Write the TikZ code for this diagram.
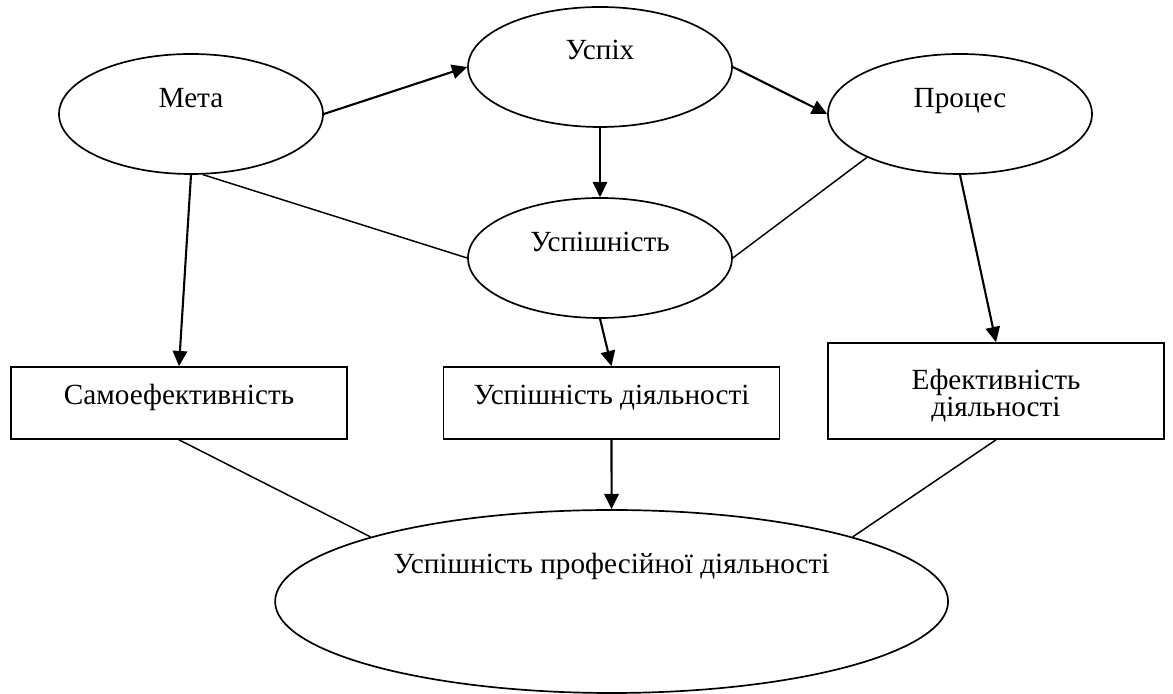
\documentclass[tikz,border=0pt]{standalone}
\usepackage{fontspec}
\setmainfont{Liberation Serif}
\usetikzlibrary{arrows.meta, shapes.geometric}
\newcommand{\lift}[2]{\raisebox{#1}[0pt][0pt]{#2}}
\tikzset{
  every picture/.style={font=\fontsize{20.8}{19.5}\selectfont, line width=1.05pt},
  oval/.style={draw, ellipse, line width=1.2pt, inner sep=0pt, minimum width=6.6cm, minimum height=3cm},
  box/.style={draw, rectangle, line width=1.2pt, inner sep=0pt, minimum width=8.4cm, minimum height=#1, align=center},
  box/.default=1.8cm,
  arrow/.style={-{Triangle[length=3.8mm, width=3.6mm]}, line width=1.5pt},
  link/.style={line width=1.05pt},
}
\begin{document}
\begin{tikzpicture}
  \useasboundingbox (0,0) rectangle (29.325,17.35);
  % top row of ovals
  \node[oval] (meta) at (4.775,14.5) {\lift{0.15cm}{Мета}};
  \node[oval] (uspikh) at (15,15.675) {\lift{0.175cm}{Успіх}};
  \node[oval] (protses) at (24,14.5) {\lift{0.15cm}{Процес}};
  \node[oval] (uspishnist) at (15,10.9) {\lift{0.15cm}{Успішність}};
  % middle row of boxes
  \node[box] (samoef) at (4.475,7.275) {\lift{-0.05cm}{Самоефективність}};
  \node[box] (uspdiial) at (15.2875,7.275) {\lift{-0.03cm}{Успішність діяльності}};
  \node[box=2.4cm] (efekt) at (24.9,7.575) {\lift{-0.65cm}{\begin{tabular}[b]{@{}c@{}}Ефективність\\діяльності\end{tabular}}};
  % result
  \node[oval, minimum width=16.825cm, minimum height=4.575cm] (profdiial) at (15.29,2.3125) {\lift{0.7cm}{Успішність професійної діяльності}};
  % arrows
  \draw[arrow] (meta.east) -- (uspikh.west);
  \draw[arrow] (uspikh.east) -- (protses.west);
  \draw[arrow] (uspikh.south) -- (uspishnist.north);
  \draw[arrow] (meta.south) -- (samoef.north);
  \draw[arrow] (protses.south) -- (efekt.north);
  \draw[arrow] (uspishnist.south) -- (uspdiial.north);
  \draw[arrow] (uspdiial.south) -- (profdiial.north);
  % plain links
  \draw[link] (meta.-79) -- (uspishnist.west);
  \draw[link] (protses.205) -- (uspishnist.east);
  \draw[link] (samoef.south) -- (profdiial.165);
  \draw[link] (efekt.south) -- (profdiial.15);
\end{tikzpicture}
\end{document}
